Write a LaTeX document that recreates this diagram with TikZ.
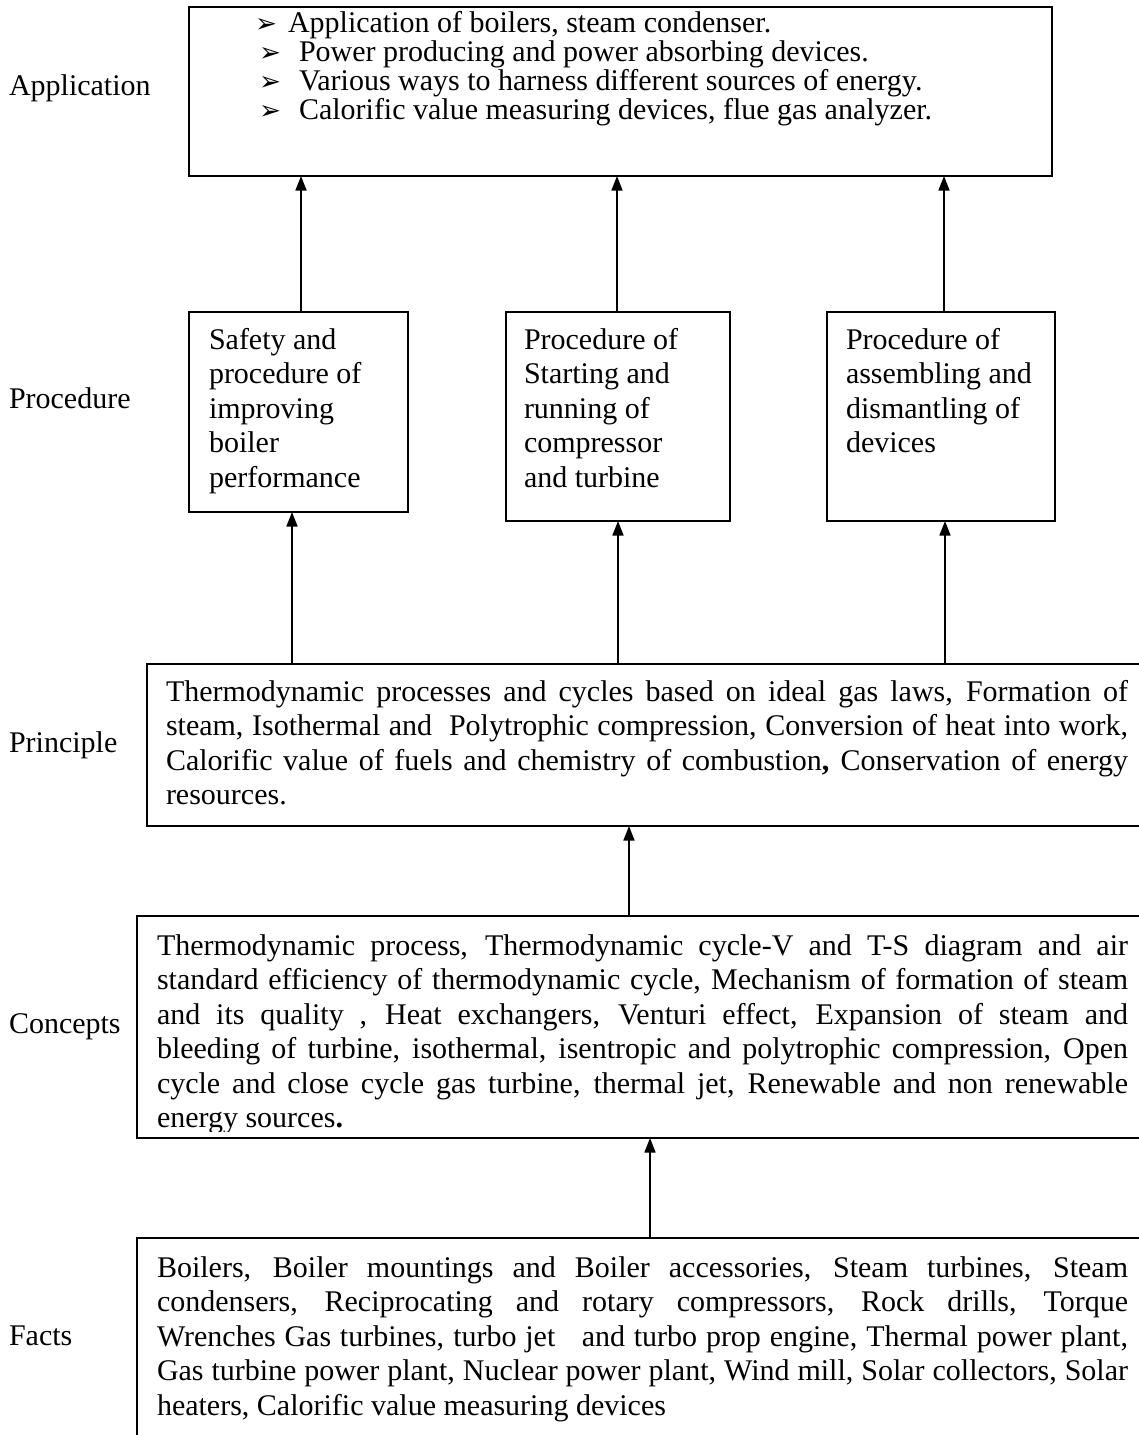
\documentclass[tikz,border=0pt]{standalone}
\usepackage{fontspec}
\setmainfont{Liberation Serif}
\newfontfamily\symfont{DejaVu Sans}
\usetikzlibrary{arrows.meta}
\newcommand\jline[1]{\makebox[\linewidth][s]{#1}}
\newcommand\bul{{\symfont\fontsize{10.5pt}{10.5pt}\selectfont ➢}}
\tikzset{
  box/.style={draw, line width=0.9pt, inner sep=0pt, outer sep=0pt, anchor=north west},
  txt/.style={inner sep=0pt, outer sep=0pt, anchor=base west, font=\fontsize{12pt}{13.8pt}\selectfont},
  arr/.style={line width=0.6pt, -{Triangle[length=5.8pt,width=4.4pt]}},
}
\begin{document}
\begin{tikzpicture}[x=0.4pt, y=-0.4pt]
\useasboundingbox (0,0) rectangle (1139,1435);
\clip (0,0) rectangle (1139,1435);

% side labels
\node[txt] (lApp) at (9,95) {Application};
\node[txt] (lProc) at (9,408) {Procedure};
\node[txt] (lPrin) at (9,752) {Principle};
\node[txt] (lConc) at (9,1033) {Concepts};
\node[txt] (lFact) at (9,1345) {Facts};

% Application box
\node[box, minimum width=345.2pt, minimum height=67.6pt] (app) at (189,7) {};
\node[txt] (appText) at (255,32) {\parbox[t]{330pt}{\lineskiplimit=-\maxdimen\baselineskip=11.6pt
\makebox[13.2pt][l]{\bul}Application of boilers, steam condenser.\\
\hspace*{1.6pt}\makebox[16pt][l]{\bul}Power producing and power absorbing devices.\\
\hspace*{1.6pt}\makebox[16pt][l]{\bul}Various ways to harness different sources of energy.\\
\hspace*{1.6pt}\makebox[16pt][l]{\bul}Calorific value measuring devices, flue gas analyzer.}};

% Procedure boxes
\node[box, minimum width=87.6pt, minimum height=80pt] (proc1) at (189,312) {};
\node[txt] (proc1Text) at (209,349) {\parbox[t]{80pt}{Safety and\\procedure of\\improving\\boiler\\performance}};
\node[box, minimum width=89.6pt, minimum height=83.6pt] (proc2) at (506,312) {};
\node[txt] (proc2Text) at (524,349) {\parbox[t]{82pt}{Procedure of\\Starting and\\running of\\compressor\\and turbine}};
\node[box, minimum width=91.2pt, minimum height=83.6pt] (proc3) at (827,312) {};
\node[txt] (proc3Text) at (846,349) {\parbox[t]{84pt}{Procedure of\\assembling and\\dismantling of\\devices}};

% Principle box
\node[box, minimum width=399.2pt, minimum height=64.8pt] (princ) at (147,664) {};
\node[txt] (princText) at (166,701) {\parbox[t]{384.8pt}{%
\jline{Thermodynamic processes and cycles based on ideal gas laws, Formation of}\\
\jline{steam, Isothermal and~ Polytrophic compression, Conversion of heat into work,}\\
\jline{Calorific value of fuels and chemistry of combustion\textbf{,} Conservation of energy}\\
resources.}};

% Concepts box
\node[box, minimum width=403.2pt, minimum height=88.8pt] (conc) at (137,916) {};
\begin{scope}
\clip (137,916) rectangle (1145,1131);
\node[txt] (concText) at (157,955) {\parbox[t]{388.4pt}{%
\jline{Thermodynamic process, Thermodynamic cycle-V and T-S diagram and air}\\
\jline{standard efficiency of thermodynamic cycle, Mechanism of formation of steam}\\
\jline{and its quality , Heat exchangers, Venturi effect, Expansion of steam and}\\
\jline{bleeding of turbine, isothermal, isentropic and polytrophic compression, Open}\\
\jline{cycle and close cycle gas turbine, thermal jet, Renewable and non renewable}\\
energy sources\textbf{.}}};
\end{scope}

% Facts box
\node[box, minimum width=403.2pt, minimum height=82.8pt] (facts) at (137,1238) {};
\node[txt] (factsText) at (157,1277) {\parbox[t]{388.4pt}{%
\jline{Boilers, Boiler mountings and Boiler accessories, Steam turbines, Steam}\\
\jline{condensers, Reciprocating and rotary compressors, Rock drills, Torque}\\
\jline{Wrenches Gas turbines, turbo jet~~~and turbo prop engine, Thermal power plant,}\\
\jline{Gas turbine power plant, Nuclear power plant, Wind mill, Solar collectors, Solar}\\
heaters, Calorific value measuring devices}};

% arrow x positions
\coordinate (xa1) at (301,0);
\coordinate (xa2) at (617,0);
\coordinate (xa3) at (944,0);
\coordinate (xb1) at (292,0);
\coordinate (xb2) at (618,0);
\coordinate (xb3) at (945,0);
\coordinate (xc) at (629,0);
\coordinate (xd) at (650,0);

\draw[arr] (proc1.north -| xa1) -- (app.south -| xa1);
\draw[arr] (proc2.north -| xa2) -- (app.south -| xa2);
\draw[arr] (proc3.north -| xa3) -- (app.south -| xa3);
\draw[arr] (princ.north -| xb1) -- (proc1.south -| xb1);
\draw[arr] (princ.north -| xb2) -- (proc2.south -| xb2);
\draw[arr] (princ.north -| xb3) -- (proc3.south -| xb3);
\draw[arr] (conc.north -| xc) -- (princ.south -| xc);
\draw[arr] (facts.north -| xd) -- (conc.south -| xd);
\end{tikzpicture}
\end{document}
